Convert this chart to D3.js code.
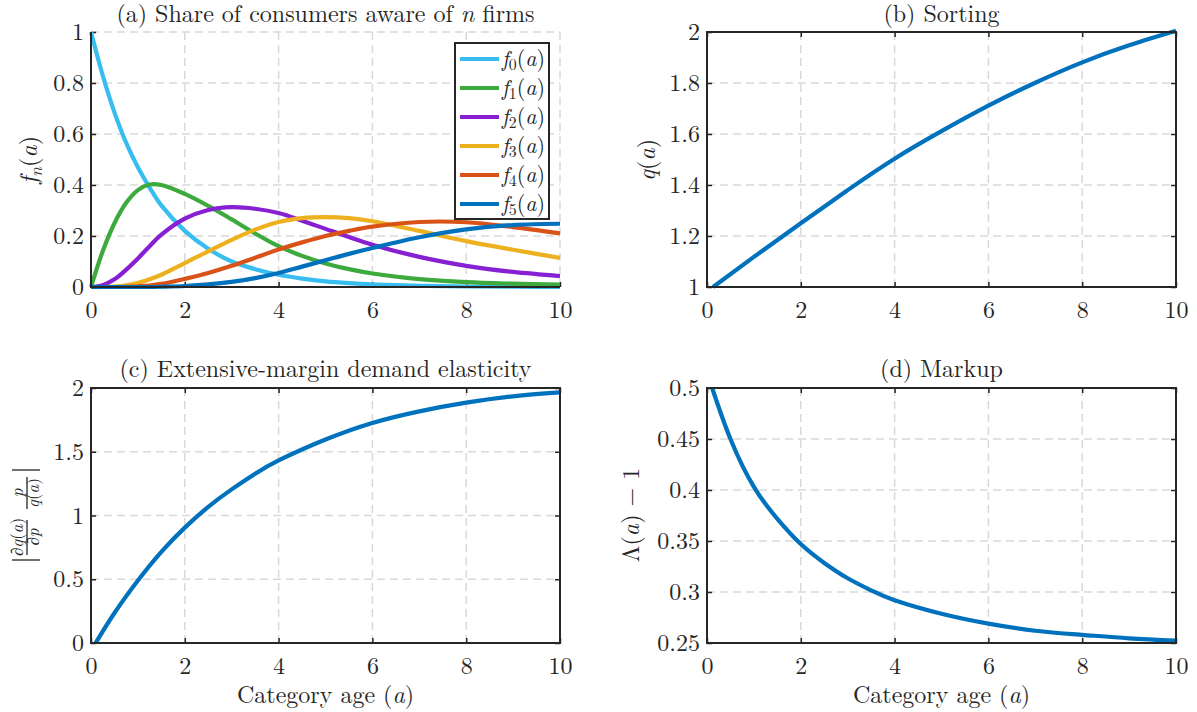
<!DOCTYPE html>
<html><head><meta charset="utf-8">
<script src="https://cdn.jsdelivr.net/npm/d3@7"></script>
<style>
body{margin:0;background:#fff}
svg{display:block}
</style>
</head><body>
<svg id="chart" width="1197" height="712"></svg>
<script>
// ---------------- data ----------------
const ageA = [0,0.25,0.5,0.75,1,1.25,1.5,2,2.5,3,3.5,4,4.5,5,5.5,6,7,8,9,10];
const f0 = [1.0,0.83,0.685,0.565,0.47,0.39,0.32,0.22,0.15,0.10,0.07,0.048,0.033,0.022,0.015,0.010,0.005,0.002,0.001,0.0005];
const f1 = [0,0.14,0.25,0.33,0.38,0.402,0.400,0.365,0.318,0.265,0.21,0.16,0.122,0.092,0.07,0.053,0.031,0.019,0.013,0.009];
const f2 = [0,0.007,0.03,0.068,0.112,0.16,0.205,0.268,0.302,0.313,0.307,0.29,0.26,0.228,0.196,0.166,0.118,0.083,0.059,0.043];
const f3 = [0,0,0.002,0.007,0.016,0.03,0.048,0.094,0.14,0.185,0.225,0.255,0.27,0.274,0.27,0.258,0.22,0.18,0.146,0.114];
const f4 = [0,0,0,0.001,0.003,0.006,0.012,0.032,0.055,0.083,0.115,0.147,0.175,0.2,0.22,0.237,0.255,0.254,0.235,0.21];
const f5 = [0,0,0,0,0,0,0.001,0.004,0.01,0.02,0.035,0.055,0.08,0.105,0.13,0.153,0.195,0.226,0.243,0.248];
const seriesA = [f0,f1,f2,f3,f4,f5];
const seriesIdx = ["0","1","2","3","4","5"];

const ageB = [0.13,1,2,3,4,5,6,7,8,9,10];
const sorting = [1.0,1.118,1.25,1.38,1.503,1.611,1.711,1.801,1.881,1.948,2.005];

const ageC = [0.1,0.5,1,1.5,2,2.5,3,3.5,4,5,6,7,8,9,10];
const elasticity = [0,0.235,0.49,0.715,0.905,1.068,1.205,1.327,1.432,1.596,1.726,1.817,1.885,1.935,1.965];

const ageD = [0.11,0.5,1,1.5,2,2.5,3,3.5,4,5,6,7,8,9,10];
const markup = [0.5,0.45,0.403,0.3718,0.347,0.3285,0.3135,0.3016,0.292,0.2787,0.269,0.262,0.258,0.2546,0.2523];

const xTicks = [0,2,4,6,8,10];
const xTickLabels = ["0","2","4","6","8","10"];
const yTicksA = [0,0.2,0.4,0.6,0.8,1];
const yTickLabelsA = ["0","0.2","0.4","0.6","0.8","1"];
const yTicksB = [1,1.2,1.4,1.6,1.8,2];
const yTickLabelsB = ["1","1.2","1.4","1.6","1.8","2"];
const yTicksC = [0,0.5,1,1.5,2];
const yTickLabelsC = ["0","0.5","1","1.5","2"];
const yTicksD = [0.25,0.3,0.35,0.4,0.45,0.5];
const yTickLabelsD = ["0.25","0.3","0.35","0.4","0.45","0.5"];

// ---------------- styles ----------------
const colorsA = ["#38bdf0","#3caa3c","#8620d2","#edb120","#d95319","#0072bd"];
const lineBlue = "#0072bd";
const axisColor = "#262626";
const gridColor = "#d9d9d9";
const FONT = "Latin Modern Roman";
const FS = 24;

const svg = d3.select("#chart");

function mathText(sel, parts, size) {
  sel.attr("font-family", FONT).attr("fill", axisColor);
  let shifted = false;
  parts.forEach(p => {
    const ts = sel.append("tspan").text(p[0]);
    const isSub = p[1] === "si" || p[1] === "sr";
    if (p[1] === "i" || p[1] === "si") ts.attr("font-style", "italic");
    if (isSub) {
      ts.attr("font-size", size * 0.72);
      if (!shifted) { ts.attr("dy", size * 0.2); shifted = true; }
    } else if (shifted) {
      ts.attr("dy", -size * 0.2); shifted = false;
    }
  });
  return sel;
}

function panel(o) {
  const x = d3.scaleLinear().domain([0, 10]).range([o.L, o.R]);
  const y = d3.scaleLinear().domain(o.yDom).range([o.B, o.T]);
  const g = svg.append("g");

  const grid = g.append("g").attr("stroke", gridColor).attr("stroke-width", 1.5).attr("stroke-dasharray", "8,5");
  grid.selectAll("line.gx").data(xTicks).join("line").attr("class", "gx")
    .attr("x1", d => x(d)).attr("x2", d => x(d)).attr("y1", o.T).attr("y2", o.B);
  grid.selectAll("line.gy").data(o.yTicks).join("line").attr("class", "gy")
    .attr("x1", o.L).attr("x2", o.R).attr("y1", d => y(d)).attr("y2", d => y(d));

  const ax = d3.axisBottom(x).tickValues(xTicks).tickFormat((d, i) => xTickLabels[i]).tickSizeInner(-5).tickSizeOuter(0).tickPadding(14);
  const ay = d3.axisLeft(y).tickValues(o.yTicks).tickFormat((d, i) => o.yLabels[i]).tickSizeInner(-5).tickSizeOuter(0).tickPadding(7);
  const gx = g.append("g").attr("transform", `translate(0,${o.B})`).call(ax);
  const gy = g.append("g").attr("transform", `translate(${o.L},0)`).call(ay);
  const axes = [gx, gy];
  if (o.box) {
    const at = d3.axisTop(x).tickValues(xTicks).tickFormat("").tickSizeInner(-5).tickSizeOuter(0);
    const ar = d3.axisRight(y).tickValues(o.yTicks).tickFormat("").tickSizeInner(-5).tickSizeOuter(0);
    axes.push(g.append("g").attr("transform", `translate(0,${o.T})`).call(at));
    axes.push(g.append("g").attr("transform", `translate(${o.R},0)`).call(ar));
  }
  axes.forEach(a => {
    a.attr("font-family", FONT).attr("font-size", FS);
    a.select(".domain").remove();
    a.selectAll(".tick line").attr("stroke", axisColor).attr("stroke-width", 1.5);
    a.selectAll(".tick text").attr("fill", axisColor);
  });

  const line = d3.line().x(d => x(d[0])).y(d => y(d[1])).curve(o.curve);
  o.series.forEach((s, i) => {
    g.append("path").datum(o.xs.map((a, k) => [a, s[k]]))
      .attr("d", line).attr("fill", "none").attr("stroke", o.colors[i])
      .attr("stroke-width", 4.2).attr("stroke-linejoin", "round");
  });

  const fr = g.append("g").attr("stroke", axisColor).attr("stroke-width", 2).attr("fill", "none");
  if (o.box) {
    fr.append("rect").attr("x", o.L).attr("y", o.T).attr("width", o.R - o.L).attr("height", o.B - o.T);
  } else {
    fr.append("path").attr("d", `M${o.L},${o.T}V${o.B}H${o.R}`);
  }

  const t = g.append("text").attr("x", (o.L + o.R) / 2).attr("y", o.titleY).attr("text-anchor", "middle").attr("font-size", FS);
  mathText(t, o.title, FS);
  return { g, x, y };
}

panel({L: 91, R: 560, T: 32, B: 287, yDom: [0, 1], yTicks: yTicksA, yLabels: yTickLabelsA,
  box: false, series: seriesA, xs: ageA, colors: colorsA, titleY: 22, curve: d3.curveCatmullRom.alpha(0.5),
  title: [["(a) Share of consumers aware of ", "r"], ["n", "i"], [" firms", "r"]]});
panel({L: 707, R: 1176, T: 32, B: 287, yDom: [1, 2], yTicks: yTicksB, yLabels: yTickLabelsB,
  box: true, series: [sorting], xs: ageB, colors: [lineBlue], titleY: 22, curve: d3.curveNatural,
  title: [["(b) Sorting", "r"]]});
panel({L: 91, R: 560, T: 388, B: 643, yDom: [0, 2], yTicks: yTicksC, yLabels: yTickLabelsC,
  box: true, series: [elasticity], xs: ageC, colors: [lineBlue], titleY: 377, curve: d3.curveNatural,
  title: [["(c) Extensive-margin demand elasticity", "r"]]});
panel({L: 707, R: 1176, T: 388, B: 643, yDom: [0.25, 0.5], yTicks: yTicksD, yLabels: yTickLabelsD,
  box: true, series: [markup], xs: ageD, colors: [lineBlue], titleY: 377, curve: d3.curveNatural,
  title: [["(d) Markup", "r"]]});

[[325.5, 703], [941.5, 703]].forEach(p => {
  const t = svg.append("text").attr("x", p[0]).attr("y", p[1]).attr("text-anchor", "middle").attr("font-size", FS);
  mathText(t, [["Category age (", "r"], ["a", "i"], [")", "r"]], FS);
});

function yLabel(cx, cy, parts) {
  const t = svg.append("text").attr("transform", `translate(${cx},${cy}) rotate(-90)`)
    .attr("text-anchor", "middle").attr("font-size", FS);
  mathText(t, parts, FS);
}
yLabel(37, 160, [["f", "i"], ["n", "si"], ["(", "r"], ["a", "i"], [")", "r"]]);
yLabel(655, 160, [["q", "i"], ["(", "r"], ["a", "i"], [")", "r"]]);
yLabel(639, 515, [["Λ(", "r"], ["a", "i"], [") − 1", "r"]]);

(function () {
  const g = svg.append("g").attr("transform", "translate(26,515) rotate(-90)");
  const fs = 17;
  const st = g.append("g").attr("stroke", axisColor).attr("stroke-width", 1.3);
  st.append("line").attr("x1", -45).attr("x2", -45).attr("y1", -14).attr("y2", 14);
  st.append("line").attr("x1", 45).attr("x2", 45).attr("y1", -14).attr("y2", 14);
  st.append("line").attr("x1", -40).attr("x2", -5).attr("y1", 1).attr("y2", 1);
  st.append("line").attr("x1", 6).attr("x2", 38).attr("y1", 1).attr("y2", 1);
  const t1 = g.append("text").attr("x", -22).attr("y", -3).attr("text-anchor", "middle").attr("font-size", fs);
  mathText(t1, [["∂", "r"], ["q", "i"], ["(", "r"], ["a", "i"], [")", "r"]], fs);
  const t2 = g.append("text").attr("x", -22).attr("y", 13).attr("text-anchor", "middle").attr("font-size", fs);
  mathText(t2, [["∂", "r"], ["p", "i"]], fs);
  const t3 = g.append("text").attr("x", 22).attr("y", -3).attr("text-anchor", "middle").attr("font-size", fs);
  mathText(t3, [["p", "i"]], fs);
  const t4 = g.append("text").attr("x", 22).attr("y", 13).attr("text-anchor", "middle").attr("font-size", fs);
  mathText(t4, [["q", "i"], ["(", "r"], ["a", "i"], [")", "r"]], fs);
})();

(function () {
  const lg = svg.append("g");
  lg.append("rect").attr("x", 455).attr("y", 43).attr("width", 94).attr("height", 176)
    .attr("fill", "#fff").attr("stroke", axisColor).attr("stroke-width", 2);
  seriesIdx.forEach((s, i) => {
    const yy = 59 + i * 29;
    lg.append("line").attr("x1", 460).attr("x2", 499).attr("y1", yy).attr("y2", yy)
      .attr("stroke", colorsA[i]).attr("stroke-width", 4.2);
    const t = lg.append("text").attr("x", 502).attr("y", yy + 7).attr("font-size", 22);
    mathText(t, [["f", "i"], [s, "sr"], ["(", "r"], ["a", "i"], [")", "r"]], 22);
  });
})();
</script>
</body></html>
